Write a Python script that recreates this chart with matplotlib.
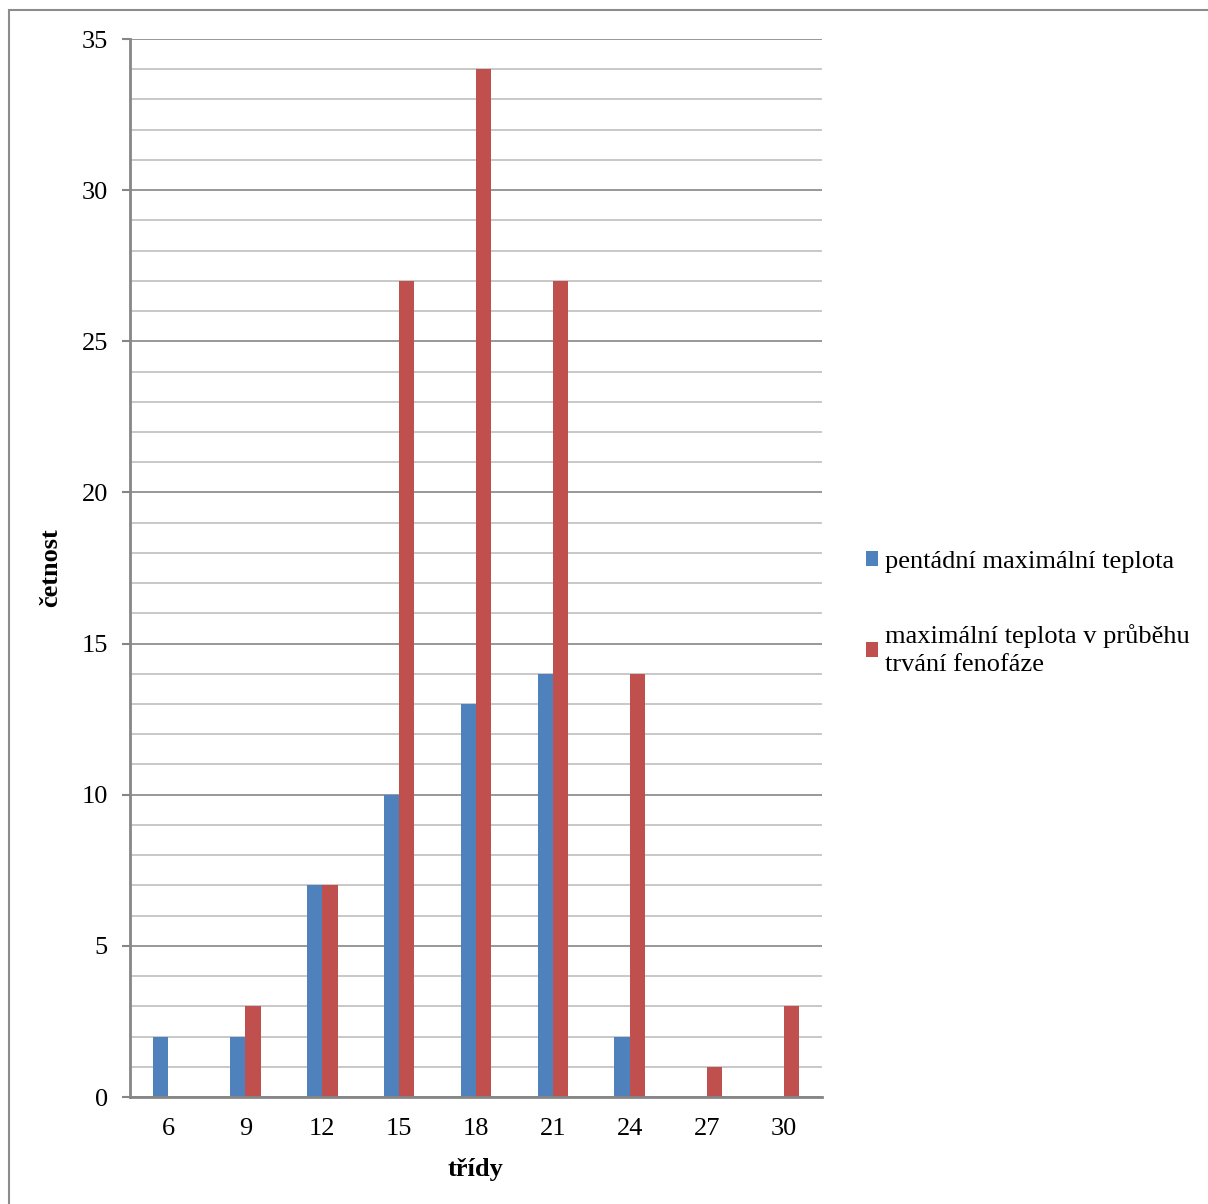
import numpy as np
import matplotlib.pyplot as plt
from matplotlib.patches import Rectangle

plt.rcParams['font.family'] = ['Liberation Serif', 'DejaVu Serif']

# četnosti ve třídách
tridy = ['6', '9', '12', '15', '18', '21', '24', '27', '30']
pentadni = [2, 2, 7, 10, 13, 14, 2, 0, 0]
fenofaze = [0, 3, 7, 27, 34, 27, 14, 1, 3]
nazvy = ['pentádní maximální teplota',
         'maximální teplota v průběhu\ntrvání fenofáze']

modra = '#4F81BD'
cervena = '#C0504D'
seda = '#868686'
fs = 19

fig = plt.figure(figsize=(12.08, 12.04), dpi=100)
ax = fig.add_axes([130 / 1208, 1 - 1097 / 1204, 692 / 1208, 1058 / 1204])

x = np.arange(len(tridy))
w = 0.2
b1 = ax.bar(x - w / 2, pentadni, w, color=modra, zorder=3)
b2 = ax.bar(x + w / 2, fenofaze, w, color=cervena, zorder=3)

ax.set_xlim(-0.5, len(tridy) - 0.5)
ax.set_ylim(0, 35)
ax.set_yticks(np.arange(0, 36, 5))
ax.set_yticks(np.arange(0, 36, 1), minor=True)
ax.set_xticks(x)
ax.set_xticklabels(tridy)

ax.grid(axis='y', which='minor', color='#BFBFBF', lw=1.2, zorder=0)
ax.grid(axis='y', which='major', color=seda, lw=1.2, zorder=1)

for s in ['top', 'right']:
    ax.spines[s].set_visible(False)
for s in ['left', 'bottom']:
    ax.spines[s].set_color(seda)
    ax.spines[s].set_linewidth(2)
    ax.spines[s].set_zorder(4)

ax.tick_params(axis='y', which='major', length=6, width=1.5, color=seda,
               labelsize=fs, pad=10)
ax.tick_params(axis='y', which='minor', length=0)
ax.tick_params(axis='x', length=0, labelsize=fs, pad=15)

ax.set_ylabel('četnost', fontsize=fs, fontweight='bold', labelpad=14)
ax.set_xlabel('třídy', fontsize=fs, fontweight='bold', labelpad=13)

leg = fig.legend([b1, b2], nazvy, loc='upper left',
                 bbox_to_anchor=(842 / 1208, 1 - 527 / 1204),
                 frameon=False, fontsize=fs, handlelength=0.48, handleheight=0.48,
                 handletextpad=0.25, labelspacing=1.93)
for t in leg.get_texts():
    t.set_linespacing(1.4)

# rámeček grafu
fig.patches.append(Rectangle((9 / 1208, -0.01), 1.2, 1 - 10 / 1204 + 0.01,
                             transform=fig.transFigure, fill=False,
                             edgecolor='#8C8C8C', lw=1.5))

fig.savefig('out.png', dpi=100)
